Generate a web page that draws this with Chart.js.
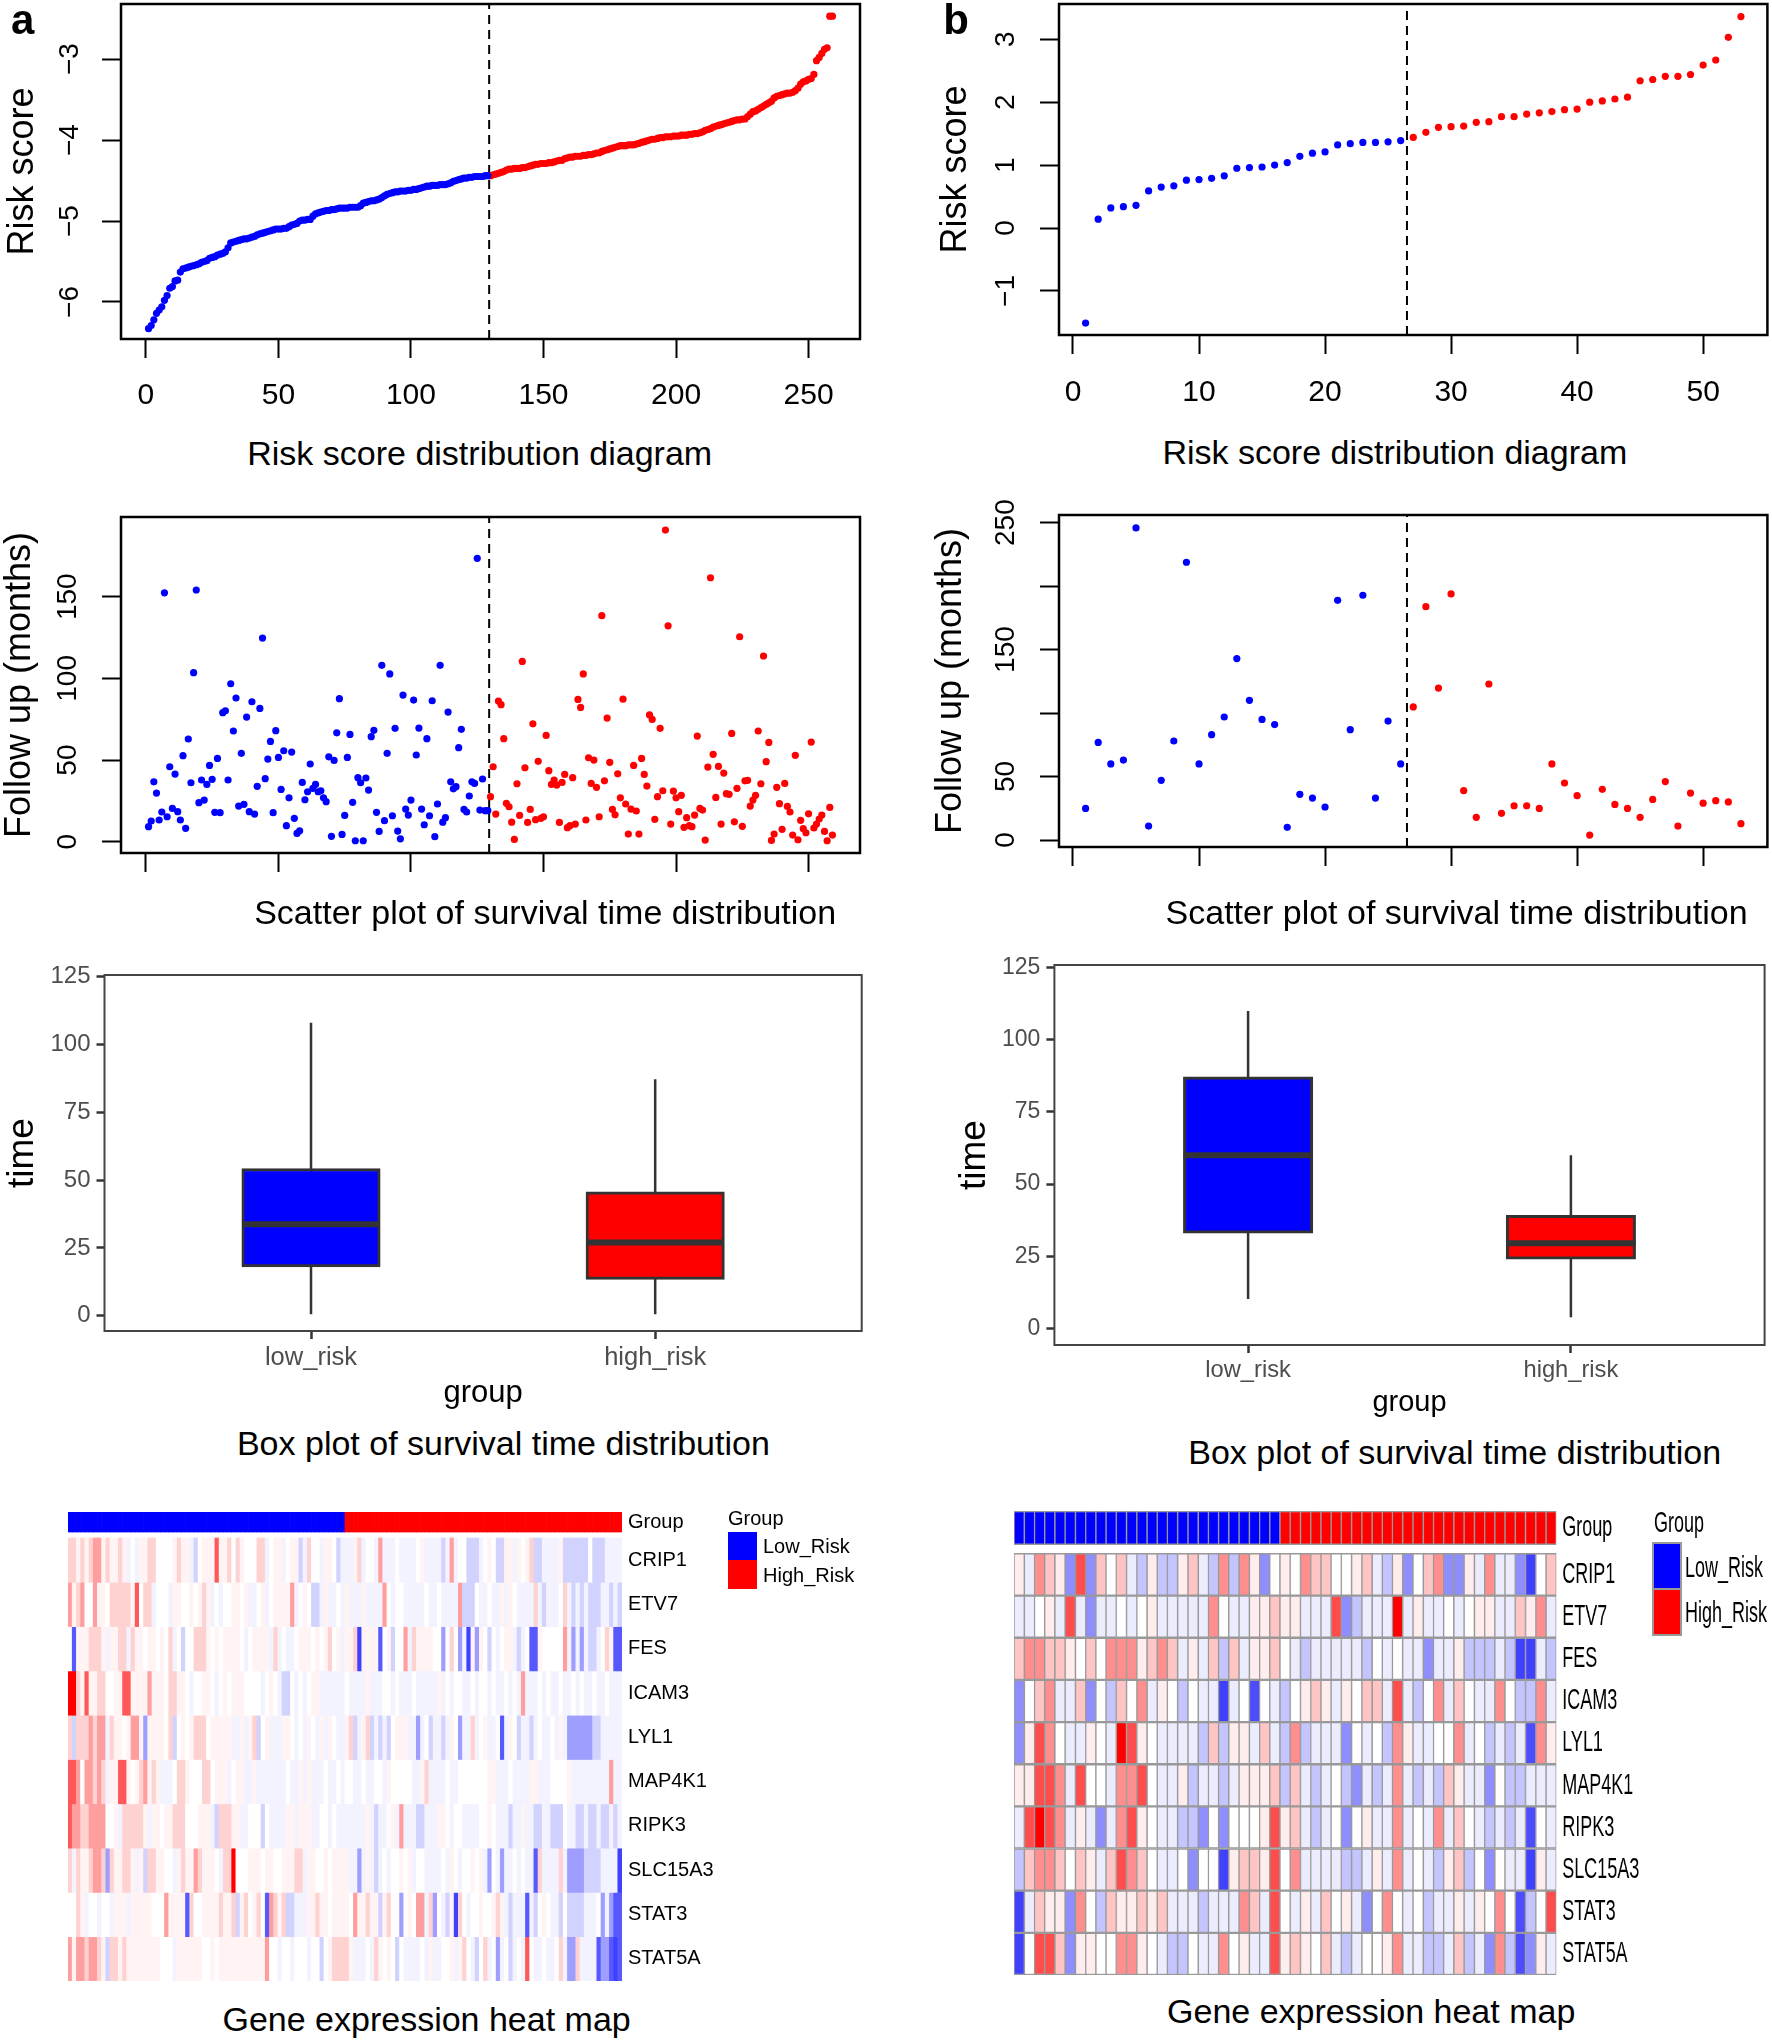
<!DOCTYPE html>
<html lang="en">

<head>
    <meta charset="UTF-8">
    <title>Risk score panels</title>
    <script src="https://cdn.jsdelivr.net/npm/chart.js"></script>
    <style>
        body {
            margin: 0;
            background: #fff;
            width: 1772px;
            height: 2042px;
            position: relative;
            overflow: hidden;
            font-family: "Liberation Sans", Arial, sans-serif;
        }

        canvas {
            position: absolute;
            transform-origin: 0 0;
        }

        .txt {
            position: absolute;
            white-space: nowrap;
            color: #000;
            line-height: 1;
        }

        .swatch {
            position: absolute;
        }
    </style>
</head>

<body>
    <script>
        // ---- panel a: risk score, sorted, low group then high group
        const riskLowA = [-6.33, -6.29, -6.22, -6.14, -6.10, -6.06, -5.98, -5.92, -5.83, -5.81,
            -5.74, -5.73, -5.63, -5.59, -5.58, -5.57, -5.56, -5.55, -5.54, -5.53,
            -5.51, -5.50, -5.49, -5.46, -5.45, -5.44, -5.42, -5.41, -5.40, -5.38,
            -5.33, -5.27, -5.26, -5.25, -5.24, -5.23, -5.22, -5.22, -5.21, -5.20,
            -5.19, -5.17, -5.16, -5.15, -5.14, -5.13, -5.12, -5.11, -5.10, -5.10,
            -5.10, -5.09, -5.09, -5.07, -5.05, -5.04, -5.03, -5.00, -4.99, -4.99,
            -4.98, -4.98, -4.94, -4.91, -4.90, -4.89, -4.88, -4.87, -4.87, -4.86,
            -4.86, -4.85, -4.84, -4.84, -4.84, -4.84, -4.83, -4.83, -4.83, -4.83,
            -4.81, -4.78, -4.77, -4.76, -4.75, -4.75, -4.74, -4.73, -4.71, -4.69,
            -4.67, -4.66, -4.65, -4.64, -4.64, -4.63, -4.63, -4.63, -4.62, -4.62,
            -4.61, -4.61, -4.60, -4.59, -4.58, -4.57, -4.57, -4.56, -4.56, -4.56,
            -4.55, -4.55, -4.55, -4.54, -4.53, -4.51, -4.50, -4.49, -4.48, -4.47,
            -4.47, -4.46, -4.46, -4.45, -4.45, -4.45, -4.45, -4.44, -4.44];
        const riskHighA = [-4.44, -4.43, -4.42, -4.41, -4.40, -4.39, -4.37, -4.36, -4.36, -4.35, -4.35,
            -4.35, -4.34, -4.34, -4.33, -4.32, -4.31, -4.30, -4.30, -4.29, -4.29,
            -4.29, -4.28, -4.28, -4.27, -4.26, -4.25, -4.25, -4.23, -4.22, -4.21,
            -4.21, -4.20, -4.20, -4.20, -4.19, -4.19, -4.18, -4.18, -4.17, -4.16,
            -4.16, -4.14, -4.13, -4.12, -4.11, -4.10, -4.09, -4.08, -4.07, -4.07,
            -4.07, -4.06, -4.06, -4.06, -4.05, -4.04, -4.03, -4.02, -4.01, -4.00,
            -3.99, -3.99, -3.98, -3.97, -3.97, -3.96, -3.96, -3.96, -3.95, -3.95,
            -3.95, -3.94, -3.94, -3.94, -3.93, -3.93, -3.92, -3.92, -3.91, -3.90,
            -3.88, -3.87, -3.86, -3.84, -3.83, -3.82, -3.81, -3.80, -3.79, -3.78,
            -3.77, -3.76, -3.75, -3.75, -3.74, -3.74, -3.71, -3.68, -3.65, -3.64,
            -3.62, -3.60, -3.58, -3.56, -3.54, -3.52, -3.48, -3.46, -3.45, -3.44,
            -3.43, -3.42, -3.42, -3.41, -3.39, -3.36, -3.31, -3.28, -3.27, -3.25,
            -3.24, -3.19, -3.02, -2.98, -2.93, -2.88, -2.86, -2.47, -2.47];

        // panel a: follow up in months
        const timeLowA = [9.2, 12.7, 36.7, 29.8, 13.3, 18.2, 152.4, 15.3, 45.9, 20.4, 41.4, 18.4, 13.3, 52.7, 8.2, 62.9, 36.1, 103.5, 154.1, 23.9,
            37.8, 25.5, 35.1, 46.7, 38.2, 18, 51, 17.8, 79, 80.2, 37.8, 96.7, 67.8, 88, 21.8, 54.1, 22.9, 76.3, 18.4, 85.7,
            16.9, 33.9, 81.6, 124.7, 38.6, 50.6, 61.4, 17.8, 68, 51.6, 32, 55.7, 9.8, 26.9, 54.9, 14.3, 5.1, 6.7, 36.3, 25.7,
            30.6, 47.6, 32.7, 35.1, 30.6, 31.2, 26.9, 24.5, 52, 3.3, 49.8, 66.7, 87.6, 4.5, 16.1, 51.6, 65.7, 24.1, 0.6, 39.2,
            36.1, 0.6, 39, 31.6, 64.3, 68.2, 18, 6.3, 108, 12.9, 54.1, 102.7, 15.9, 69.4, 6.5, 1.8, 89.8, 20, 16.3, 25.5,
            86.7, 53.1, 69.6, 20, 10.4, 63.1, 15.9, 86.3, 3.1, 23.1, 108, 12, 14.7, 79.4, 36.7, 32.4, 33.7, 57.6, 68.8, 19.8,
            18.2, 28, 36.7, 35.7, 173.5, 19.4, 38.4, 19, 19];
        const timeHighA = [27.6, 45.9, 16.9, 86.1, 83.9, 63.1, 23.5, 21.4, 12, 1.4, 35.5, 16.1, 110.4, 45.3, 11.8, 19.8, 72.2, 13.5, 49.2, 14.3,
            15.3, 65.1, 43.5, 35.1, 37.8, 34.7, 11.8, 36.3, 41.2, 8.6, 9.8, 39.2, 10.8, 87.1, 82.2, 102.7, 13.3, 51.4, 35.7, 50,
            33.3, 15.3, 138.4, 37.3, 75.7, 48.6, 19.8, 16.5, 41.6, 26.9, 87.3, 23.1, 4.7, 20, 46.7, 18.8, 4.7, 51, 41.2, 34.1,
            77.6, 74.9, 13.7, 27.6, 69.4, 31.2, 190.8, 132.2, 10.8, 31, 26.9, 18.4, 28.4, 8.8, 14.7, 9.8, 9.2, 16.3, 64.7, 20.4,
            19.4, 1, 45.7, 161.6, 53.5, 27.1, 46.1, 10.8, 42, 29.4, 29, 66.3, 12.2, 32.7, 125.5, 9.4, 37.3, 37.6, 21.8, 25.5,
            28.4, 67.8, 35.5, 113.7, 49, 60.8, 0.8, 4.7, 33.3, 23.3, 7.6, 35.7, 21.6, 18.2, 4.1, 52.9, 1.2, 13.1, 8, 5.5,
            17.1, 61, 8.4, 10.8, 13.9, 16.3, 6.3, 0.6, 21, 4.1];

        // ---- panel b: risk score and follow up
        const riskLowB = [-1.51, 0.14, 0.32, 0.34, 0.36, 0.59, 0.65, 0.67, 0.76, 0.77, 0.79, 0.83, 0.95, 0.96, 0.97, 1.0, 1.04, 1.14, 1.19, 1.21, 1.32, 1.34, 1.36, 1.36, 1.37, 1.39];
        const riskHighB = [1.44, 1.52, 1.60, 1.61, 1.62, 1.68, 1.69, 1.77, 1.77, 1.81, 1.83, 1.85, 1.88, 1.89, 2.0, 2.02, 2.05, 2.08, 2.34, 2.36, 2.41, 2.41, 2.44, 2.59, 2.67, 3.03, 3.36];
        const timeLowB = [24.9, 76.9, 59.9, 63, 245.8, 11, 47, 78, 218.8, 59.9, 83, 96.9, 142.9, 110, 95, 90.9, 10, 36, 33, 26, 188.8, 86.9, 192.8, 33, 93.7, 59.9];
        const timeHighB = [104.8, 183.8, 119.7, 193.8, 38.9, 17.9, 122.9, 21, 27, 27, 24.9, 59.9, 44.9, 34.9, 3.9, 39.9, 28, 24.9, 17.9, 32, 46, 11, 37, 29, 31, 30, 12.9];

        // ---- box plots: [min, q1, median, q3, max]
        const boxLowA = [0.6, 18, 33.7, 54.3, 108];
        const boxHighA = [0.6, 13.4, 27, 45.7, 87.2];
        const boxLowB = [10.2, 33, 60, 87.2, 110];
        const boxHighB = [3.9, 24, 29.5, 39.2, 60];
        const boxGroups = ['low_risk', 'high_risk'];

        // ---- heat maps: expression level per sample, -5 (blue) to 5 (red)
        const genes = ['CRIP1', 'ETV7', 'FES', 'ICAM3', 'LYL1', 'MAP4K1', 'RIPK3', 'SLC15A3', 'STAT3', 'STAT5A'];

        const crip1A = [2,2,1,2,1,2,3,3,1,2,1, 1,2,1,-1,0,-1,1,1,2,2,0, 0,0,0,1,2,1,1,-1,-2,0,1, 1,1,4,1,1,2,0,2,1,0,0, 0,2,2,-1,0,1,1,-1,0,1,1, -2,-1,2,0,0,-1,1,1,0,-2,-1,
            -1,-1,1,2,-1,0,0,-1,3,-1,-1, -1,0,-1,-1,-1,-1,0,1,-1,-1,-1, -1,-2,-1,3,-1,0,0,-2,-2,-2,-1, 0,1,0,-2,-2,1,1,-1,1,0,1, 2,-2,-2,-1,-1,-1,-1,1,-2,-2,-2, -2,-2,-2,0,-2,-2,-2,-1,-1,-1,-1];
        const etv7A = [3,1,2,3,0,0,3,1,1,0,2, 2,2,2,2,1,4,0,2,2,-1,0, 0,0,-1,1,1,0,0,1,0,1,2, 1,-1,0,-1,0,0,1,1,0,1,-1, -1,0,1,-1,0,1,1,1,1,3,-1, 0,1,0,-2,-2,-1,1,-1,-1,0,-1,
            1,-1,-1,-1,1,-1,-1,-1,-1,3,0, -1,0,0,-1,-1,-1,-1,-1,0,-1,-1, 0,-1,-1,-1,-1,3,-2,-2,-2,0,-1, -1,0,-1,-1,1,-1,1,0,-1,-1,-1, -1,2,-1,-2,-1,-1,-1,0,2,-1,-2, -1,-2,-1,-2,-2,-2,-1,-1,-2,-1,-2];
        const fesA = [0,-4,1,1,1,2,2,2,1,-1,1, 1,2,2,-1,2,1,1,0,1,1,0, 1,0,2,-1,0,-2,0,0,2,2,2, 1,0,1,0,1,1,1,1,0,-1,0, 1,1,1,1,-1,2,-1,0,-1,-1,0, 1,1,1,0,1,0,1,2,0,1,-1,
            1,1,2,-5,1,1,1,1,-4,0,1, -2,0,0,3,-1,2,1,1,1,1,0, 0,-3,0,2,0,-3,-1,-5,1,-3,1, 0,-2,0,-1,0,1,1,-1,-2,-1,0, -4,-4,1,0,0,0,0,0,3,-1,-3, -1,-3,-1,-2,-2,-1,0,2,1,-4,-4];
        const icam3A = [5,5,2,1,4,1,1,2,2,0,0, 1,1,4,4,1,1,1,1,3,1,1, 1,0,2,2,1,1,0,-1,0,0,1, 1,0,-1,0,1,0,1,1,1,0,0, 0,0,-1,0,1,0,-1,-2,-2,0,-1, 0,-1,0,1,1,-1,-1,-1,-1,-1,-1,
            0,-1,-1,-1,-1,1,-1,-1,-1,0,0, -1,0,-1,-1,-1,0,-1,-1,-1,-1,-1, 1,-1,0,-1,0,0,-1,-1,0,-1,0, 0,-1,0,-1,-1,0,-1,0,-1,3,-1, -1,-1,0,-1,0,-1,-1,0,-1,-1,0, -1,0,-1,-1,0,-1,-1,0,-1,-1,-1];
        const lyl1A = [2,-2,2,2,2,3,2,3,3,-1,2, 1,1,0,1,3,3,1,-3,1,1,1, 1,0,2,-2,0,1,0,1,2,2,2, 0,1,1,1,1,1,-1,-1,1,-1,1, 2,-2,0,1,-1,-1,-1,1,1,0,-1, 0,-1,1,0,-1,1,-1,1,0,-1,-1,
            1,2,-2,-1,1,2,-2,-1,-2,-1,-2, 0,1,1,1,-1,-1,-3,-1,0,-2,-1, -1,-2,-1,1,0,-3,-1,-1,2,-1,0, 1,-1,-1,0,-4,-1,1,0,-2,-1,-1, -2,-1,0,-1,-1,0,-1,1,-1,-3,-3, -3,-3,-3,-3,-2,-2,-1,-1,-1,-1,-1];
        const map4k1A = [4,4,3,0,3,3,2,3,2,-1,1, 1,4,4,1,0,1,2,3,1,2,1, -1,-1,-1,0,2,2,1,0,0,0,2, 2,0,1,1,1,-1,0,1,1,-1,-1, 1,-1,-1,-1,-1,-1,-1,-1,0,-1,-1, 1,-1,1,-1,-1,-1,0,-1,-1,0,-1,
            0,0,-1,-1,0,-1,-1,0,0,-1,1, 0,0,0,0,0,-1,-1,1,2,-1,-1, -1,-1,0,-1,-1,0,0,0,0,0,0, 0,1,1,-1,-1,-1,0,-1,-1,-1,-1, 1,1,-1,-1,-1,0,0,0,0,1,-1, -1,-1,-1,-1,-1,-1,-1,-1,3,-1,-1];
        const ripk3A = [4,3,3,2,2,3,3,3,3,0,0, 1,-1,2,2,2,2,2,1,-1,1,1, 0,1,1,2,2,2,0,0,0,1,1, 1,-1,-2,2,2,2,1,1,-1,-1,0, 0,0,-2,0,-1,-1,-1,-1,1,1,-1, 1,1,1,-1,-1,0,0,-1,0,-1,-1,
            -1,-1,-1,-1,-1,1,-1,-2,-1,-1,0, 1,-1,3,-1,-1,-1,-2,-2,-1,-1,-1, 1,1,0,-1,0,0,-1,-1,-1,-1,0, 0,1,0,-1,-1,-1,-2,-1,-1,1,-1, -1,-2,-2,-1,-1,-2,-2,-2,0,-1,-1, -2,-2,-1,-2,-2,-1,-2,-2,-1,-2,-1];
        const slc15a3A = [2,-1,2,1,1,2,3,3,2,-3,2, 1,1,2,2,1,-1,1,-2,2,2,1, 1,0,0,-1,1,2,1,1,3,2,1, 1,1,0,-1,2,2,5,0,0,0,1, 1,1,0,1,1,0,0,1,1,1,2, 2,-1,1,1,0,0,1,0,1,1,1,
            1,-1,-1,-3,-1,1,-1,-2,-1,0,-1, 0,0,1,0,1,-1,0,0,-1,-1,-1, -1,0,-1,1,0,-1,0,0,1,0,1, -1,-3,0,-1,-3,-1,-1,0,-1,0,-1, -1,-4,2,-1,-1,-1,-1,2,-1,-3,-3, -3,-3,-2,-2,-2,-2,-1,-1,-1,-1,-5];
        const stat3A = [0,0,2,1,-1,0,0,-1,0,0,-1, 1,1,1,-1,1,1,1,1,1,0,0, 0,3,1,1,1,1,-4,2,0,0,1, 1,1,1,2,1,1,2,-2,1,2,0, 1,2,0,-4,3,2,1,2,-2,-2,-1, -1,-1,1,1,2,1,1,0,1,1,1,
            1,0,3,1,1,2,1,1,-2,1,2, 0,0,-3,0,1,0,3,3,-1,2,-3, 0,-1,-2,1,-5,2,0,-1,0,0,1, 0,0,1,2,1,-1,-2,-1,-1,-1,-4, -1,-2,0,1,0,-1,-1,-2,0,-2,-2, -2,-2,-1,-1,-1,0,-3,-1,-3,-4,-4];
        const stat5aA = [3,1,3,3,2,3,3,2,1,-2,2, 2,1,2,1,1,1,1,1,1,1,1, 0,0,0,-1,1,1,1,1,1,1,0, 0,1,0,1,1,1,1,1,1,1,1, 1,1,1,3,0,0,-1,0,0,-1,0, 0,0,-1,0,0,-2,0,1,2,2,2,
            2,1,-1,-1,-1,0,-1,2,1,0,1, 0,-2,0,-1,-1,-1,-1,0,-1,1,-1, -1,0,0,1,-1,1,2,0,-1,-2,0, 2,-1,0,-3,-1,0,-2,-1,0,-1,4, 0,-1,-1,0,-1,-1,0,2,-1,-3,-3, 2,-1,-1,-1,-1,-4,-3,-3,-4,-5,-4];
        const heatA = [crip1A, etv7A, fesA, icam3A, lyl1A, map4k1A, ripk3A, slc15a3A, stat3A, stat5aA];

        const crip1B = [1,-1,3,2,1,-3,4,-3,2,0, 2,-1,-2,1,-2,-2,1,2,-1,-2, 3,-2,3,1,-3,0,1,0,3,2, 2,0,0,1,2,-1,-2,1,-3,0, 2,3,-3,-3,1,-1,3,-1,-1,-3, -5,0,2];
        const etv7B = [-1,-1,0,1,-1,4,-1,-3,-1,-1, 0,-1,0,1,-1,-1,-1,-1,-1,3, 0,-1,-1,1,1,2,1,1,-1,-1, -1,4,-3,-2,-1,-1,-1,5,-1,1, -1,-1,0,-1,0,1,1,-1,-1,2, 1,3,-1];
        const fesB = [2,3,3,2,2,1,0,2,0,3, 3,3,1,2,3,2,-1,1,-1,2, -2,2,-1,1,1,2,0,-1,-2,-1, -1,-1,-1,-1,-2,0,-1,0,-1,-1, -3,-1,-1,1,-2,-2,-2,-1,-2,-5, -5,-1,-2];
        const icam3B = [-3,0,2,3,-1,-1,2,-3,0,-2, 2,0,3,-1,1,0,-2,0,-1,-1, -5,-1,0,-4,0,-1,-2,0,1,2, 1,-1,1,0,2,2,-1,4,-1,-2, 0,3,-1,2,0,-1,-1,3,0,-2, -2,3,-1];
        const lyl1B = [-3,1,4,3,0,-1,-1,1,0,-1, 5,4,1,0,-1,-1,-1,-1,-2,2, -2,1,1,-1,2,-1,-2,3,-2,-1, -1,-1,-3,0,-1,0,-2,3,1,-1, -1,0,0,3,-1,0,-2,-1,-2,-1, -4,3,1];
        const map4k1B = [1,1,4,4,3,-1,4,0,0,-1, 3,3,4,0,-1,-1,1,-2,-1,-1, -2,-1,1,1,1,2,-2,2,-1,-2, -1,0,-2,-3,-1,-2,-1,3,-1,-2, -1,-2,2,1,-1,-1,-3,0,-2,-2, -1,-1,-1];
        const ripk3B = [-1,4,5,4,3,-1,1,-1,-3,-1, 3,4,1,0,-1,-1,-2,-2,-3,0, -3,0,0,0,1,4,1,2,-1,-2, -1,0,-3,0,1,-1,-1,3,-1,0, -1,3,-1,2,0,-1,-2,-1,-2,-1, -4,0,-1];
        const slc15a3B = [-2,2,3,3,2,0,2,1,-1,2, 4,3,2,0,-1,-1,0,-3,0,0, -5,1,2,2,1,4,0,3,-1,-1, -1,-1,-2,-2,-1,1,-1,3,-1,0, -1,-2,1,2,-2,0,-3,0,-1,-1, -5,1,-1];
        const stat3B = [-5,-1,2,1,1,-3,3,0,-2,2, 1,1,2,1,2,-1,-1,-1,-2,-1, -1,-1,3,2,-1,4,0,-1,1,-1, 2,0,1,-1,-3,0,3,0,-1,0, -2,-1,-1,1,-1,1,0,3,0,-4, -2,0,4];
        const stat5aB = [-5,0,4,4,2,-3,1,1,0,0, 3,3,1,0,-1,-2,-2,0,-1,-1, 3,0,1,-1,-1,4,1,2,1,0, 2,-1,-2,-1,0,0,1,3,-1,-1, -2,-2,-1,2,-2,-1,-3,3,-2,-4, -3,1,-1];
        const heatB = [crip1B, etv7B, fesB, icam3B, lyl1B, map4k1B, ripk3B, slc15a3B, stat3B, stat5aB];

        // ---- shared chart setup
        Chart.defaults.font.family = '"Liberation Sans", Arial, sans-serif';
        Chart.defaults.color = '#000';
        Chart.defaults.animation = false;
        Chart.defaults.responsive = false;
        Chart.defaults.plugins.legend.display = false;
        Chart.defaults.plugins.tooltip.enabled = false;

        const BLUE = '#0000ff';
        const RED = '#ff0000';

        // the box round the plot area
        Chart.register({
            id: 'frame',
            defaults: { color: '#000', width: 2.5 },
            afterDatasetsDraw(chart, args, opts) {
                if (!opts.width) return;
                const a = chart.chartArea;
                const c = chart.ctx;
                c.save();
                c.strokeStyle = opts.color;
                c.lineWidth = opts.width;
                c.strokeRect(a.left, a.top, a.right - a.left, a.bottom - a.top);
                c.restore();
            }
        });

        function addCanvas(rect, squeeze) {
            const cv = document.createElement('canvas');
            cv.width = Math.round(rect[2] / (squeeze || 1));
            cv.height = rect[3];
            cv.style.left = rect[0] + 'px';
            cv.style.top = rect[1] + 'px';
            if (squeeze) cv.style.transform = 'scaleX(' + squeeze + ')';
            document.body.appendChild(cv);
            return cv;
        }

        // fixes an axis' thickness so the plot area lands where it should
        function fixSize(prop, px) {
            return function (s) {
                s[prop] = px;
                s.paddingLeft = s.paddingRight = s.paddingTop = s.paddingBottom = 0;
            };
        }

        function addText(text, x, y, size, opts) {
            opts = opts || {};
            const d = document.createElement('div');
            d.className = 'txt';
            d.textContent = text;
            d.style.left = x + 'px';
            d.style.top = y + 'px';
            d.style.fontSize = size + 'px';
            if (opts.bold) d.style.fontWeight = 'bold';
            const sx = opts.squeeze || 1;
            d.style.transformOrigin = '0 50%';
            d.style.transform = (opts.left ? 'translate(0,-50%)' : 'translate(-50%,-50%)') + ' scaleX(' + sx + ')';
            document.body.appendChild(d);
        }

        function addSwatch(x0, x1, y0, y1, color, border) {
            const d = document.createElement('div');
            d.className = 'swatch';
            d.style.left = x0 + 'px';
            d.style.top = y0 + 'px';
            d.style.width = (x1 - x0) + 'px';
            d.style.height = (y1 - y0) + 'px';
            d.style.background = color;
            if (border) d.style.outline = '2px solid ' + border;
            document.body.appendChild(d);
        }

        // ---- scatter panels (risk score and follow up)
        function scatterPanel(p) {
            const low = p.low.map((v, i) => ({ x: i + 1, y: v }));
            const high = p.high.map((v, i) => ({ x: p.low.length + i + 1, y: v }));
            const L = p.rect[0], T = p.rect[1], W = p.rect[2], H = p.rect[3];
            new Chart(addCanvas(p.rect), {
                type: 'scatter',
                data: {
                    datasets: [
                        { data: low, backgroundColor: BLUE, pointRadius: 3.6, pointBorderWidth: 0 },
                        { data: high, backgroundColor: RED, pointRadius: 3.6, pointBorderWidth: 0 },
                        {
                            data: [{ x: p.cut, y: p.yMin }, { x: p.cut, y: p.yMax }], showLine: true, pointRadius: 0,
                            borderColor: '#000', borderWidth: 2, borderDash: [9, 6]
                        }
                    ]
                },
                options: {
                    layout: { padding: { left: 0, top: p.area[1] - T, right: L + W - p.area[2], bottom: 0 } },
                    scales: {
                        x: {
                            min: p.xMin, max: p.xMax,
                            afterFit: fixSize('height', T + H - p.area[3]),
                            grid: { drawOnChartArea: false, tickLength: 19, tickColor: '#000', tickWidth: 2 },
                            border: { display: false },
                            ticks: {
                                display: p.xLabels, stepSize: p.xStep, includeBounds: false, autoSkip: false,
                                maxRotation: 0, padding: p.xPad, font: { size: 30 }
                            }
                        },
                        y: {
                            min: p.yMin, max: p.yMax,
                            afterFit: fixSize('width', p.area[0] - L),
                            grid: { drawOnChartArea: false, tickLength: 19, tickColor: '#000', tickWidth: 2 },
                            border: { display: false },
                            title: {
                                display: true, text: p.yTitle, font: { size: 36 },
                                padding: { top: p.titlePad, bottom: 0 }
                            },
                            ticks: {
                                stepSize: p.yStep, includeBounds: false, autoSkip: false,
                                minRotation: 90, maxRotation: 90, crossAlign: 'center',
                                padding: p.yPad, font: { size: 28 },
                                callback: p.yTick || (v => String(v).replace('-', '\u2212'))
                            }
                        }
                    }
                }
            });
        }

        scatterPanel({
            rect: [0, 0, 886, 430], area: [121, 4, 860, 339], low: riskLowA, high: riskHighA, cut: 129.5,
            xMin: -9.39, xMax: 269.4, yMin: -6.457, yMax: -2.32, xStep: 50, yStep: 1, xLabels: true, xPad: 20, yPad: 16,
            yTitle: 'Risk score', titlePad: 1
        });
        scatterPanel({
            rect: [0, 480, 886, 420], area: [121, 517, 860, 853], low: timeLowA, high: timeHighA, cut: 129.5,
            xMin: -9.39, xMax: 269.4, yMin: -6.9, yMax: 198.8, xStep: 50, yStep: 50, xLabels: false, xPad: 0, yPad: 10,
            yTitle: 'Follow up (months)', titlePad: -2
        });
        scatterPanel({
            rect: [886, 0, 886, 430], area: [1059, 3, 1767.4, 335], low: riskLowB, high: riskHighB, cut: 26.5,
            xMin: -1.11, xMax: 55.1, yMin: -1.70, yMax: 3.56, xStep: 10, yStep: 1, xLabels: true, xPad: 21, yPad: 18,
            yTitle: 'Risk score', titlePad: 48
        });
        scatterPanel({
            rect: [886, 480, 886, 420], area: [1059, 515, 1767.4, 847], low: timeLowB, high: timeHighB, cut: 26.5,
            xMin: -1.11, xMax: 55.1, yMin: -5.5, yMax: 256, xStep: 10, yStep: 50, xLabels: false, xPad: 0, yPad: 10,
            yTitle: 'Follow up (months)', titlePad: 43,
            yTick: v => (v === 100 || v === 200 ? '' : String(v))
        });

        // ---- box plots, built from bars and short lines on a numeric x axis
        function boxPanel(p) {
            const L = p.rect[0], T = p.rect[1], W = p.rect[2], H = p.rect[3];
            const sets = [p.lowBox, p.highBox];
            const whisker = (b, i) => ({
                type: 'line', order: 3, pointRadius: 0, borderColor: '#333', borderWidth: 2.5,
                data: [{ x: i + 1, y: b[0] }, { x: i + 1, y: b[4] }]
            });
            const median = (b, i) => ({
                type: 'line', order: 1, pointRadius: 0, borderColor: '#333', borderWidth: 6, borderCapStyle: 'butt',
                data: [{ x: i + 0.8, y: b[2] }, { x: i + 1.2, y: b[2] }]
            });
            new Chart(addCanvas(p.rect), {
                type: 'bar',
                data: {
                    datasets: [
                        whisker(sets[0], 0), whisker(sets[1], 1),
                        {
                            order: 2, grouped: false, barThickness: p.barW,
                            backgroundColor: [BLUE, RED], borderColor: '#333', borderWidth: 3, borderSkipped: false,
                            data: sets.map((b, i) => ({ x: i + 1, y: [b[1], b[3]] }))
                        },
                        median(sets[0], 0), median(sets[1], 1)
                    ]
                },
                options: {
                    layout: { padding: { left: 0, top: p.area[1] - T, right: L + W - p.area[2], bottom: 0 } },
                    plugins: { frame: { color: '#444', width: 2 } },
                    scales: {
                        x: {
                            type: 'linear', min: 0.4, max: 2.6, offset: false,
                            afterFit: fixSize('height', T + H - p.area[3]),
                            afterBuildTicks(s) { s.ticks = [{ value: 1 }, { value: 2 }]; },
                            grid: { offset: false, drawOnChartArea: false, tickLength: 8, tickColor: '#333', tickWidth: 2.5 },
                            border: { display: false },
                            title: { display: true, text: 'group', font: { size: p.groupSize }, padding: 0 },
                            ticks: {
                                color: '#4d4d4d', autoSkip: false, maxRotation: 0, padding: p.xPad, font: { size: p.tickX },
                                callback: v => boxGroups[v - 1]
                            }
                        },
                        y: {
                            min: p.yMin, max: p.yMax,
                            afterFit: fixSize('width', p.area[0] - L),
                            grid: { drawOnChartArea: false, tickLength: 8, tickColor: '#333', tickWidth: 2.5 },
                            border: { display: false },
                            title: {
                                display: true, text: 'time', font: { size: 37 },
                                padding: { top: p.titlePad, bottom: 0 }
                            },
                            ticks: {
                                color: '#4d4d4d', stepSize: 25, includeBounds: false, autoSkip: false, padding: 6,
                                font: { size: p.tickY }
                            }
                        }
                    }
                }
            });
        }

        boxPanel({
            rect: [0, 960, 886, 452], area: [104.5, 975, 861.7, 1331], lowBox: boxLowA, highBox: boxHighA,
            yMin: -5.6, yMax: 125.6, barW: 138.4, xPad: 4, tickX: 25.5, tickY: 24, groupSize: 31, titlePad: 1
        });
        boxPanel({
            rect: [886, 950, 886, 470], area: [1054.4, 965, 1764.6, 1345], lowBox: boxLowB, highBox: boxHighB,
            yMin: -5.75, yMax: 125.9, barW: 129.4, xPad: 3, tickX: 23.7, tickY: 23, groupSize: 29, titlePad: 67
        });

        // ---- heat maps, one floating bar per cell
        function heatColor(v, curve) {
            let t = Math.pow(Math.abs(v) / 5, curve);
            if (v < 0) t = Math.min(t, 0.75);
            const c = Math.round(255 * (1 - t));
            return v >= 0 ? 'rgb(255,' + c + ',' + c + ')' : 'rgb(' + c + ',' + c + ',255)';
        }

        function heatPanel(p) {
            const squeeze = p.squeeze || 1;
            const L = p.rect[0], T = p.rect[1], W = p.rect[2], H = p.rect[3];
            const cols = p.matrix[0].map((v, i) => i);
            const cell = {
                grouped: false, barPercentage: 1, categoryPercentage: 1, borderSkipped: false,
                borderColor: p.grid, borderWidth: p.gridW
            };
            const sets = p.matrix.map((row, r) => Object.assign({
                data: row.map(() => [r, r + 1]),
                backgroundColor: row.map(v => heatColor(v, p.curve))
            }, cell));
            sets.push(Object.assign({
                data: cols.map(() => p.groupRange),
                backgroundColor: cols.map(i => (i < p.split ? BLUE : RED))
            }, cell));
            const groupTick = (p.groupRange[0] + p.groupRange[1]) / 2;
            new Chart(addCanvas(p.rect, p.squeeze), {
                type: 'bar',
                data: { labels: cols, datasets: sets },
                options: {
                    layout: {
                        padding: {
                            left: (p.area[0] - L) / squeeze, top: p.area[1] - T,
                            right: 0, bottom: T + H - p.area[3]
                        }
                    },
                    plugins: { frame: { width: 0 } },
                    scales: {
                        x: { display: false },
                        y: {
                            position: 'right', reverse: true, min: p.yMin, max: 10,
                            afterFit: fixSize('width', (L + W - p.area[2]) / squeeze),
                            afterBuildTicks(s) {
                                s.ticks = [{ value: groupTick }].concat(genes.map((g, r) => ({ value: r + 0.5 })));
                            },
                            grid: { display: false, drawTicks: false },
                            border: { display: false },
                            ticks: {
                                autoSkip: false, padding: p.tickPad, font: { size: p.tickSize },
                                callback: v => (v === groupTick ? 'Group' : genes[v - 0.5])
                            }
                        }
                    }
                }
            });
        }

        heatPanel({
            rect: [60, 1500, 700, 490], area: [68, 1512, 622, 1981], matrix: heatA, split: 66, curve: 1.9,
            yMin: -0.587, groupRange: [-0.587, -0.135], grid: 'rgba(0,0,0,0)', gridW: 0, tickPad: 6, tickSize: 20
        });
        heatPanel({
            rect: [1014, 1500, 758, 490], area: [1014, 1511, 1556.4, 1975], matrix: heatB, split: 26, squeeze: 0.6, curve: 1.6,
            yMin: -1.006, groupRange: [-1.006, -0.209], grid: '#999', gridW: 1.5, tickPad: 10, tickSize: 30
        });

        // ---- heat map legends
        addText('Group', 728, 1518, 20, { left: true });
        addSwatch(728, 756.5, 1531.5, 1560, BLUE);
        addSwatch(728, 756.5, 1560, 1589, RED);
        addText('Low_Risk', 763, 1546, 20, { left: true });
        addText('High_Risk', 763, 1575, 20, { left: true });

        addText('Group', 1653.5, 1522, 30, { left: true, squeeze: 0.6 });
        addSwatch(1653.5, 1679.5, 1544, 1588.6, BLUE, '#999');
        addSwatch(1653.5, 1679.5, 1590, 1634, RED, '#999');
        addText('Low_Risk', 1684.5, 1567, 30, { left: true, squeeze: 0.6 });
        addText('High_Risk', 1684.5, 1612, 30, { left: true, squeeze: 0.6 });

        // ---- panel letters and captions
        addText('a', 22.6, 20, 42, { bold: true });
        addText('b', 956, 20, 42, { bold: true });
        addText('Risk score distribution diagram', 479.7, 453, 34);
        addText('Risk score distribution diagram', 1394.8, 452, 34);
        addText('Scatter plot of survival time distribution', 545.2, 912, 34);
        addText('Scatter plot of survival time distribution', 1456.6, 912, 34);
        addText('Box plot of survival time distribution', 503.4, 1443, 34);
        addText('Box plot of survival time distribution', 1454.7, 1452, 34);
        addText('Gene expression heat map', 426.6, 2019, 34);
        addText('Gene expression heat map', 1371.2, 2011, 34);
    </script>
</body>

</html>
